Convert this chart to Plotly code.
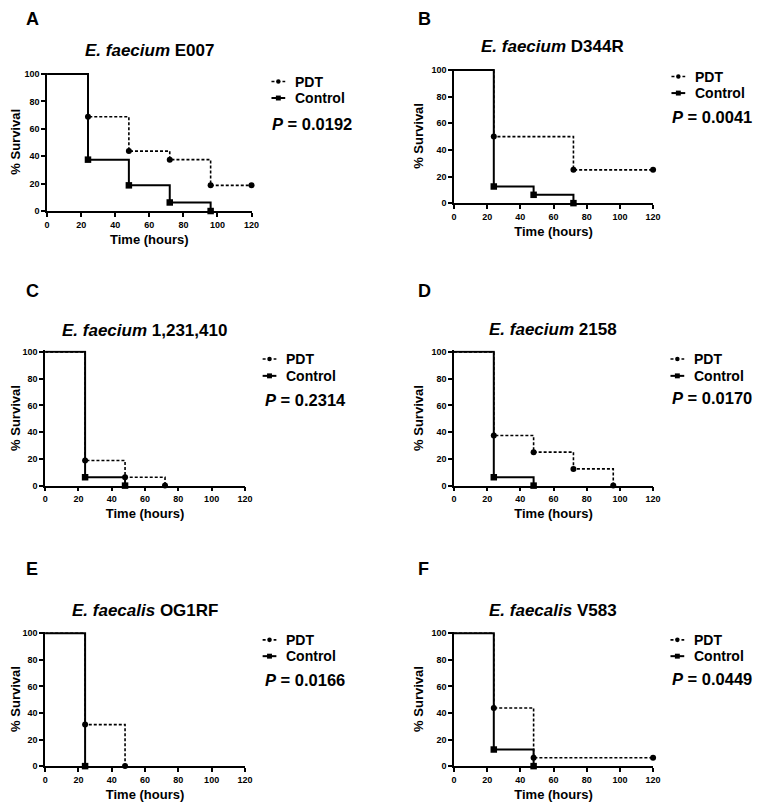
import plotly.graph_objects as go

# ---------------- data ----------------
panel_letters = ["A", "B", "C", "D", "E", "F"]
species = ["E. faecium", "E. faecium", "E. faecium", "E. faecium", "E. faecalis", "E. faecalis"]
strains = ["E007", "D344R", "1,231,410", "2158", "OG1RF", "V583"]
p_values = ["0.0192", "0.0041", "0.2314", "0.0170", "0.0166", "0.0449"]
series_names = ["PDT", "Control"]

# Kaplan-Meier steps: time (hours) and % survival
pdt_t = [
    [0, 24, 48, 72, 96, 120],
    [0, 24, 72, 120],
    [0, 24, 48, 72],
    [0, 24, 48, 72, 96],
    [0, 24, 48],
    [0, 24, 48, 120],
]
pdt_s = [
    [100, 68.75, 43.75, 37.5, 18.75, 18.75],
    [100, 50, 25, 25],
    [100, 18.75, 6.25, 0],
    [100, 37.5, 25, 12.5, 0],
    [100, 31.25, 0],
    [100, 43.75, 6.25, 6.25],
]
ctl_t = [
    [0, 24, 48, 72, 96],
    [0, 24, 48, 72],
    [0, 24, 48],
    [0, 24, 48],
    [0, 24],
    [0, 24, 48],
]
ctl_s = [
    [100, 37.5, 18.75, 6.25, 0],
    [100, 12.5, 6.25, 0],
    [100, 6.25, 0],
    [100, 6.25, 0],
    [100, 0],
    [100, 12.5, 0],
]
x_ticks = [0, 20, 40, 60, 80, 100, 120]
y_ticks = [0, 20, 40, 60, 80, 100]

# ---------------- layout geometry (page pixels) ----------------
OFF = 8                      # default page body margin
W, H = 763 - OFF, 808 - OFF
# (x_left, x_right, y_at_100, y_at_0)
boxes = [
    (42.7, 250.7, 70.7, 209.3),
    (456.7, 659.3, 66.7, 201.3),
    (40.7, 244.0, 351.7, 487.0),
    (456.7, 659.3, 351.7, 487.0),
    (40.7, 244.0, 636.3, 770.7),
    (456.7, 659.3, 636.3, 770.7),
]
letter_pos = [(20, 15), (419, 15), (20, 290.5), (419, 290.5), (20, 571.5), (419, 571.5)]
title_pos = [(146.7, 46.7), (557, 43.3), (141.7, 330), (557, 329), (142, 613), (557, 613)]
legend_text_x = [294, 701, 285, 700, 285, 700]
legend_rows = [(78.3, 95), (73.3, 90), (359, 376), (359, 376), (643, 659.5), (643, 659.5)]
pval_pos = [(270.5, 121.7), (678, 114.3), (263, 400), (678, 398), (263, 684), (678, 683)]

YMAX = 101.0
FONT = "Liberation Sans, Arial, sans-serif"


def px_x(v):
    return (v - OFF) / W


def px_y(v):
    return 1 - (v - OFF) / H


fig = go.Figure()
annotations = []
shapes = []
layout = dict(
    width=W, height=H, margin=dict(l=0, r=0, t=0, b=0),
    paper_bgcolor="white", plot_bgcolor="white",
    font=dict(family=FONT, color="black"), showlegend=False,
)

for i in range(6):
    n = "" if i == 0 else str(i + 1)
    xa, ya = "x" + n, "y" + n
    x0, x1, y100, y0 = boxes[i]
    ytop = y100 - (YMAX - 100) / 100 * (y0 - y100)

    axis_common = dict(
        showline=True, linecolor="black", linewidth=1.5,
        ticks="outside", ticklen=4, tickwidth=1.5, tickcolor="black",
        showgrid=False, zeroline=False, fixedrange=True,
        tickfont=dict(family=FONT, size=9, color="black", weight="bold"),
    )
    layout["xaxis" + n] = dict(
        axis_common, domain=[px_x(x0), px_x(x1)], range=[0, 120],
        tickvals=x_ticks, anchor=ya,
        title=dict(text="<b>Time (hours)</b>", font=dict(size=13), standoff=6),
    )
    layout["yaxis" + n] = dict(
        axis_common, domain=[px_y(y0), px_y(ytop)], range=[0, YMAX],
        tickvals=y_ticks, anchor=xa,
        title=dict(text="<b>% Survival</b>", font=dict(size=13), standoff=5),
    )

    # PDT dashed step curve
    fig.add_trace(go.Scatter(
        x=pdt_t[i], y=pdt_s[i], xaxis=xa, yaxis=ya, mode="lines", name=series_names[0],
        line=dict(color="black", width=1.6, dash="3px,2px", shape="hv"),
        hoverinfo="skip"))
    fig.add_trace(go.Scatter(
        x=pdt_t[i][1:], y=pdt_s[i][1:], xaxis=xa, yaxis=ya, mode="markers", name=series_names[0],
        marker=dict(symbol="circle", size=6, color="black"),
        cliponaxis=False, hoverinfo="skip"))
    # Control solid step curve
    fig.add_trace(go.Scatter(
        x=ctl_t[i], y=ctl_s[i], xaxis=xa, yaxis=ya, mode="lines", name=series_names[1],
        line=dict(color="black", width=2, shape="hv"),
        hoverinfo="skip"))
    fig.add_trace(go.Scatter(
        x=ctl_t[i][1:], y=ctl_s[i][1:], xaxis=xa, yaxis=ya, mode="markers", name=series_names[1],
        marker=dict(symbol="square", size=6.5, color="black"),
        cliponaxis=False, hoverinfo="skip"))

    # ---- legend (key symbols + labels) ----
    tx0 = legend_text_x[i]
    for k, ry in enumerate(legend_rows[i]):
        sx0, sx1, mx = tx0 - 23, tx0 - 9, tx0 - 16
        if k == 0:
            shapes.append(dict(type="line", xref="paper", yref="paper",
                               x0=px_x(sx0), x1=px_x(sx1), y0=px_y(ry), y1=px_y(ry),
                               line=dict(color="black", width=1.6, dash="3px,2.5px")))
            r = 2.3
            shapes.append(dict(type="circle", xref="paper", yref="paper",
                               x0=px_x(mx - r), x1=px_x(mx + r), y0=px_y(ry + r), y1=px_y(ry - r),
                               fillcolor="black", line=dict(color="black", width=0)))
        else:
            shapes.append(dict(type="line", xref="paper", yref="paper",
                               x0=px_x(sx0), x1=px_x(sx1), y0=px_y(ry), y1=px_y(ry),
                               line=dict(color="black", width=2)))
            r = 2.5
            shapes.append(dict(type="rect", xref="paper", yref="paper",
                               x0=px_x(mx - r), x1=px_x(mx + r), y0=px_y(ry + r), y1=px_y(ry - r),
                               fillcolor="black", line=dict(color="black", width=0)))
        annotations.append(dict(
            text="<b>%s</b>" % series_names[k], x=px_x(tx0 - 1), y=px_y(ry),
            xref="paper", yref="paper", xanchor="left", yanchor="middle",
            showarrow=False, font=dict(family=FONT, size=14, color="black")))

    ax_, ay_ = letter_pos[i]
    annotations.append(dict(
        text="<b>%s</b>" % panel_letters[i], x=px_x(ax_ - 1), y=px_y(ay_),
        xref="paper", yref="paper", xanchor="left", yanchor="middle",
        showarrow=False, font=dict(family=FONT, size=18, color="black")))
    tx, ty = title_pos[i]
    annotations.append(dict(
        text="<b><i>%s</i> %s</b>" % (species[i], strains[i]), x=px_x(tx), y=px_y(ty),
        xref="paper", yref="paper", xanchor="center", yanchor="middle",
        showarrow=False, font=dict(family=FONT, size=17, color="black")))
    pxp, pyp = pval_pos[i]
    annotations.append(dict(
        text="<b><i>P</i> = %s</b>" % p_values[i], x=px_x(pxp - 1), y=px_y(pyp),
        xref="paper", yref="paper", xanchor="left", yanchor="middle",
        showarrow=False, font=dict(family=FONT, size=16.5, color="black")))

layout["annotations"] = annotations
layout["shapes"] = shapes
fig.update_layout(**layout)
fig.write_html("out.html")
